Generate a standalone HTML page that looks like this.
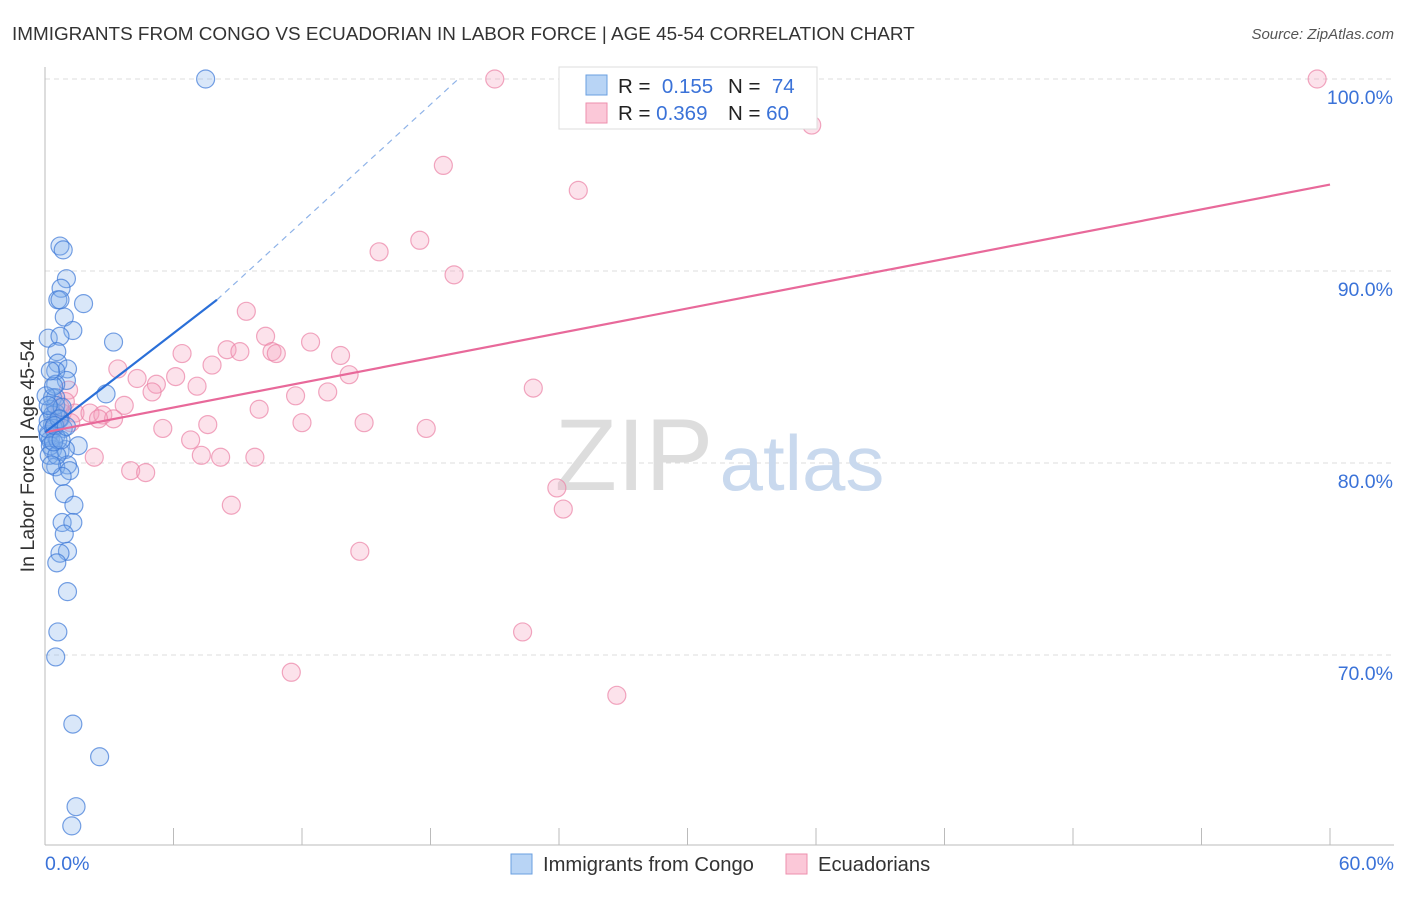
<!DOCTYPE html>
<html><head><meta charset="utf-8"><style>
body{margin:0;background:#fff;font-family:"Liberation Sans",sans-serif;}
svg text{font-family:"Liberation Sans",sans-serif;}
</style></head><body>
<svg id="chart" width="1406" height="892">
<text x="12" y="40" font-size="18.9" fill="#333">IMMIGRANTS FROM CONGO VS ECUADORIAN IN LABOR FORCE | AGE 45-54 CORRELATION CHART</text>
<text x="1394" y="39" font-size="15" fill="#555" text-anchor="end" font-style="italic">Source: ZipAtlas.com</text>
<text x="34" y="456" font-size="19.6" fill="#333" text-anchor="middle" transform="rotate(-90 34 456)">In Labor Force | Age 45-54</text>
<g id="grid"></g>
<text x="634" y="490" font-size="102" fill="#ddd" text-anchor="middle" font-family="Liberation Serif">ZIP</text>
<text x="802" y="490" font-size="78" fill="#c9d9ee" text-anchor="middle">atlas</text>
<g id="pts"></g>
<g id="lines"></g>
<g>
<rect x="559" y="67" width="258" height="62" fill="#fff" stroke="#ddd"/>
<rect x="586" y="75" width="21" height="20" fill="#b8d4f5" stroke="#6a9fe0"/>
<rect x="586" y="103" width="21" height="20" fill="#fbc8d8" stroke="#ee8fae"/>
<text x="618" y="93" font-size="20.5" fill="#222">R = <tspan fill="#3a72d8">&#160;0.155</tspan><tspan x="728">N = </tspan><tspan fill="#3a72d8">&#160;74</tspan></text>
<text x="618" y="120" font-size="20.5" fill="#222">R = <tspan fill="#3a72d8">0.369</tspan><tspan x="728">N = </tspan><tspan fill="#3a72d8">60</tspan></text>
</g>
<g>
<rect x="511" y="854" width="21" height="20" fill="#b8d4f5" stroke="#6a9fe0"/>
<text x="543" y="871" font-size="20.2" fill="#333">Immigrants from Congo</text>
<rect x="786" y="854" width="21" height="20" fill="#fbc8d8" stroke="#ee8fae"/>
<text x="818" y="871" font-size="20.2" fill="#333">Ecuadorians</text>
</g>
</svg>
<script>
const yTicks=[100,90,80,70];
const xTickLabels=["0.0%","60.0%"];
const blueX=[7.5,0.7,0.85,1,0.75,0.6,0.7,1.8,0.9,1.3,0.15,0.7,3.2,0.55,0.6,1.05,0.5,1,0.5,2.85,0.35,0.5,0.25,0.5,0.7,0.35,0.85,0.15,0.5,0.25,1.55,0.35,0.7,0.95,0.5,1.05,1.15,0.8,0.9,1.35,0.8,1.3,0.9,1.05,0.7,0.55,1.05,0.6,0.5,1.3,2.55,1.45,1.25,0.15,0.25,0.35,0.5,0.15,0.4,0.6,0.05,0.4,0.8,0.2,0.55,0.1,0.3,0.65,0.4,0.25,0.45,0.15,0.75,1];
const blueY=[100,91.3,91.1,89.6,89.1,88.5,88.5,88.3,87.6,86.9,86.5,86.6,86.3,85.8,85.2,84.9,84.8,84.3,84.1,83.6,83.4,83.4,82.8,82.6,82.3,82,81.8,81.5,81.4,81.2,80.9,80.7,80.6,80.7,79.8,79.9,79.6,79.3,78.4,77.8,76.9,76.9,76.3,75.4,75.3,74.8,73.3,71.2,69.9,66.4,64.7,62.1,61.1,81.4,80.9,82.5,83,82.2,81.8,81.2,83.5,84,82.9,80.4,80.4,81.8,79.9,82.3,81.1,84.8,81.95,83,81.2,81.9];
const pinkX=[21,59.4,35.8,18.6,24.9,17.5,15.6,19.1,9.4,10.3,12.4,8.5,9.1,10.6,10.8,6.4,7.8,3.4,13.8,14.2,4.3,6.1,5.2,7.1,5,22.8,11.7,13.2,3.7,1.1,0.95,10,0.8,1.4,2.1,2.7,3.2,2.5,7.6,5.5,12,14.9,17.8,6.8,2.3,7.3,8.2,9.8,4,4.7,23.9,8.7,24.2,14.7,22.3,11.5,26.7,0.7,0.5,1.2];
const pinkY=[100,100,97.6,95.5,94.2,91.6,91,89.8,87.9,86.6,86.3,85.9,85.8,85.8,85.7,85.7,85.1,84.9,85.6,84.6,84.4,84.5,84.1,84,83.7,83.9,83.5,83.7,83,83.8,83.2,82.8,82.6,82.6,82.6,82.5,82.3,82.3,82,81.8,82.1,82.1,81.8,81.2,80.3,80.4,80.3,80.3,79.6,79.5,78.7,77.8,77.6,75.4,71.2,69.1,67.9,82.9,82.1,82.1];
const blueFitX=[0,8.03,19.3];
const blueFitY=[81.6,88.5,100];
const pinkFitX=[0,60];
const pinkFitY=[81.6,94.5];
const NS="http://www.w3.org/2000/svg";
const X0=45,X1=1330,Y100=79,PX10=192;
const sx=v=>X0+(v/60)*(X1-X0);
const sy=v=>Y100+(100-v)*PX10/10;
function mk(tag,attrs,parent){const e=document.createElementNS(NS,tag);for(const k in attrs)e.setAttribute(k,attrs[k]);parent.appendChild(e);return e;}
const grid=document.getElementById('grid');
yTicks.forEach(t=>{
  const l=mk('line',{x1:X0,x2:1394,y1:sy(t),y2:sy(t),stroke:'#ddd','stroke-dasharray':'5,4'},grid);
  
  
  const tx=mk('text',{x:1393,y:sy(t)+25,'font-size':19.5,fill:'#3a72d8','text-anchor':'end'},grid);
  tx.textContent=t.toFixed(1)+'%';
  
  
});
const ax=mk('line',{x1:X0,x2:X0,y1:67,y2:845,stroke:'#bbb'},grid);


const bx=mk('line',{x1:X0,x2:1394,y1:845,y2:845,stroke:'#bbb'},grid);


for(let i=0;i<=10;i++){
  const t=mk('line',{x1:sx(i*6),x2:sx(i*6),y1:828,y2:845,stroke:'#bbb'},grid);
  
  
}
[[0,'start',45],[60,'end',1394]].forEach((d,i)=>{
  const tx=mk('text',{x:d[2],y:870,'font-size':19.5,fill:'#3a72d8','text-anchor':d[1]},grid);
  tx.textContent=xTickLabels[i];
  
  
});
const pts=document.getElementById('pts');
pinkX.forEach((x,i)=>{
  const c=mk('circle',{cx:sx(x),cy:sy(pinkY[i]),r:9,fill:'rgba(246,160,190,0.3)',stroke:'rgba(235,130,165,0.7)','stroke-width':1.2},pts);
  
  
});
blueX.forEach((x,i)=>{
  const c=mk('circle',{cx:sx(x),cy:sy(blueY[i]),r:9,fill:'rgba(130,175,235,0.3)',stroke:'rgba(60,120,215,0.7)','stroke-width':1.2},pts);
  
  
});
const lines=document.getElementById('lines');
const pl=mk('line',{x1:sx(pinkFitX[0]),y1:sy(pinkFitY[0]),x2:sx(pinkFitX[1]),y2:sy(pinkFitY[1]),stroke:'#e8699a','stroke-width':2.2},lines);


const bl=mk('line',{x1:sx(blueFitX[0]),y1:sy(blueFitY[0]),x2:sx(blueFitX[1]),y2:sy(blueFitY[1]),stroke:'#2a6fd8','stroke-width':2.2},lines);


const bd=mk('line',{x1:sx(blueFitX[1]),y1:sy(blueFitY[1]),x2:sx(blueFitX[2]),y2:sy(blueFitY[2]),stroke:'#8fb3e8','stroke-width':1.2,'stroke-dasharray':'6,5'},lines);


</script>
</body></html>
